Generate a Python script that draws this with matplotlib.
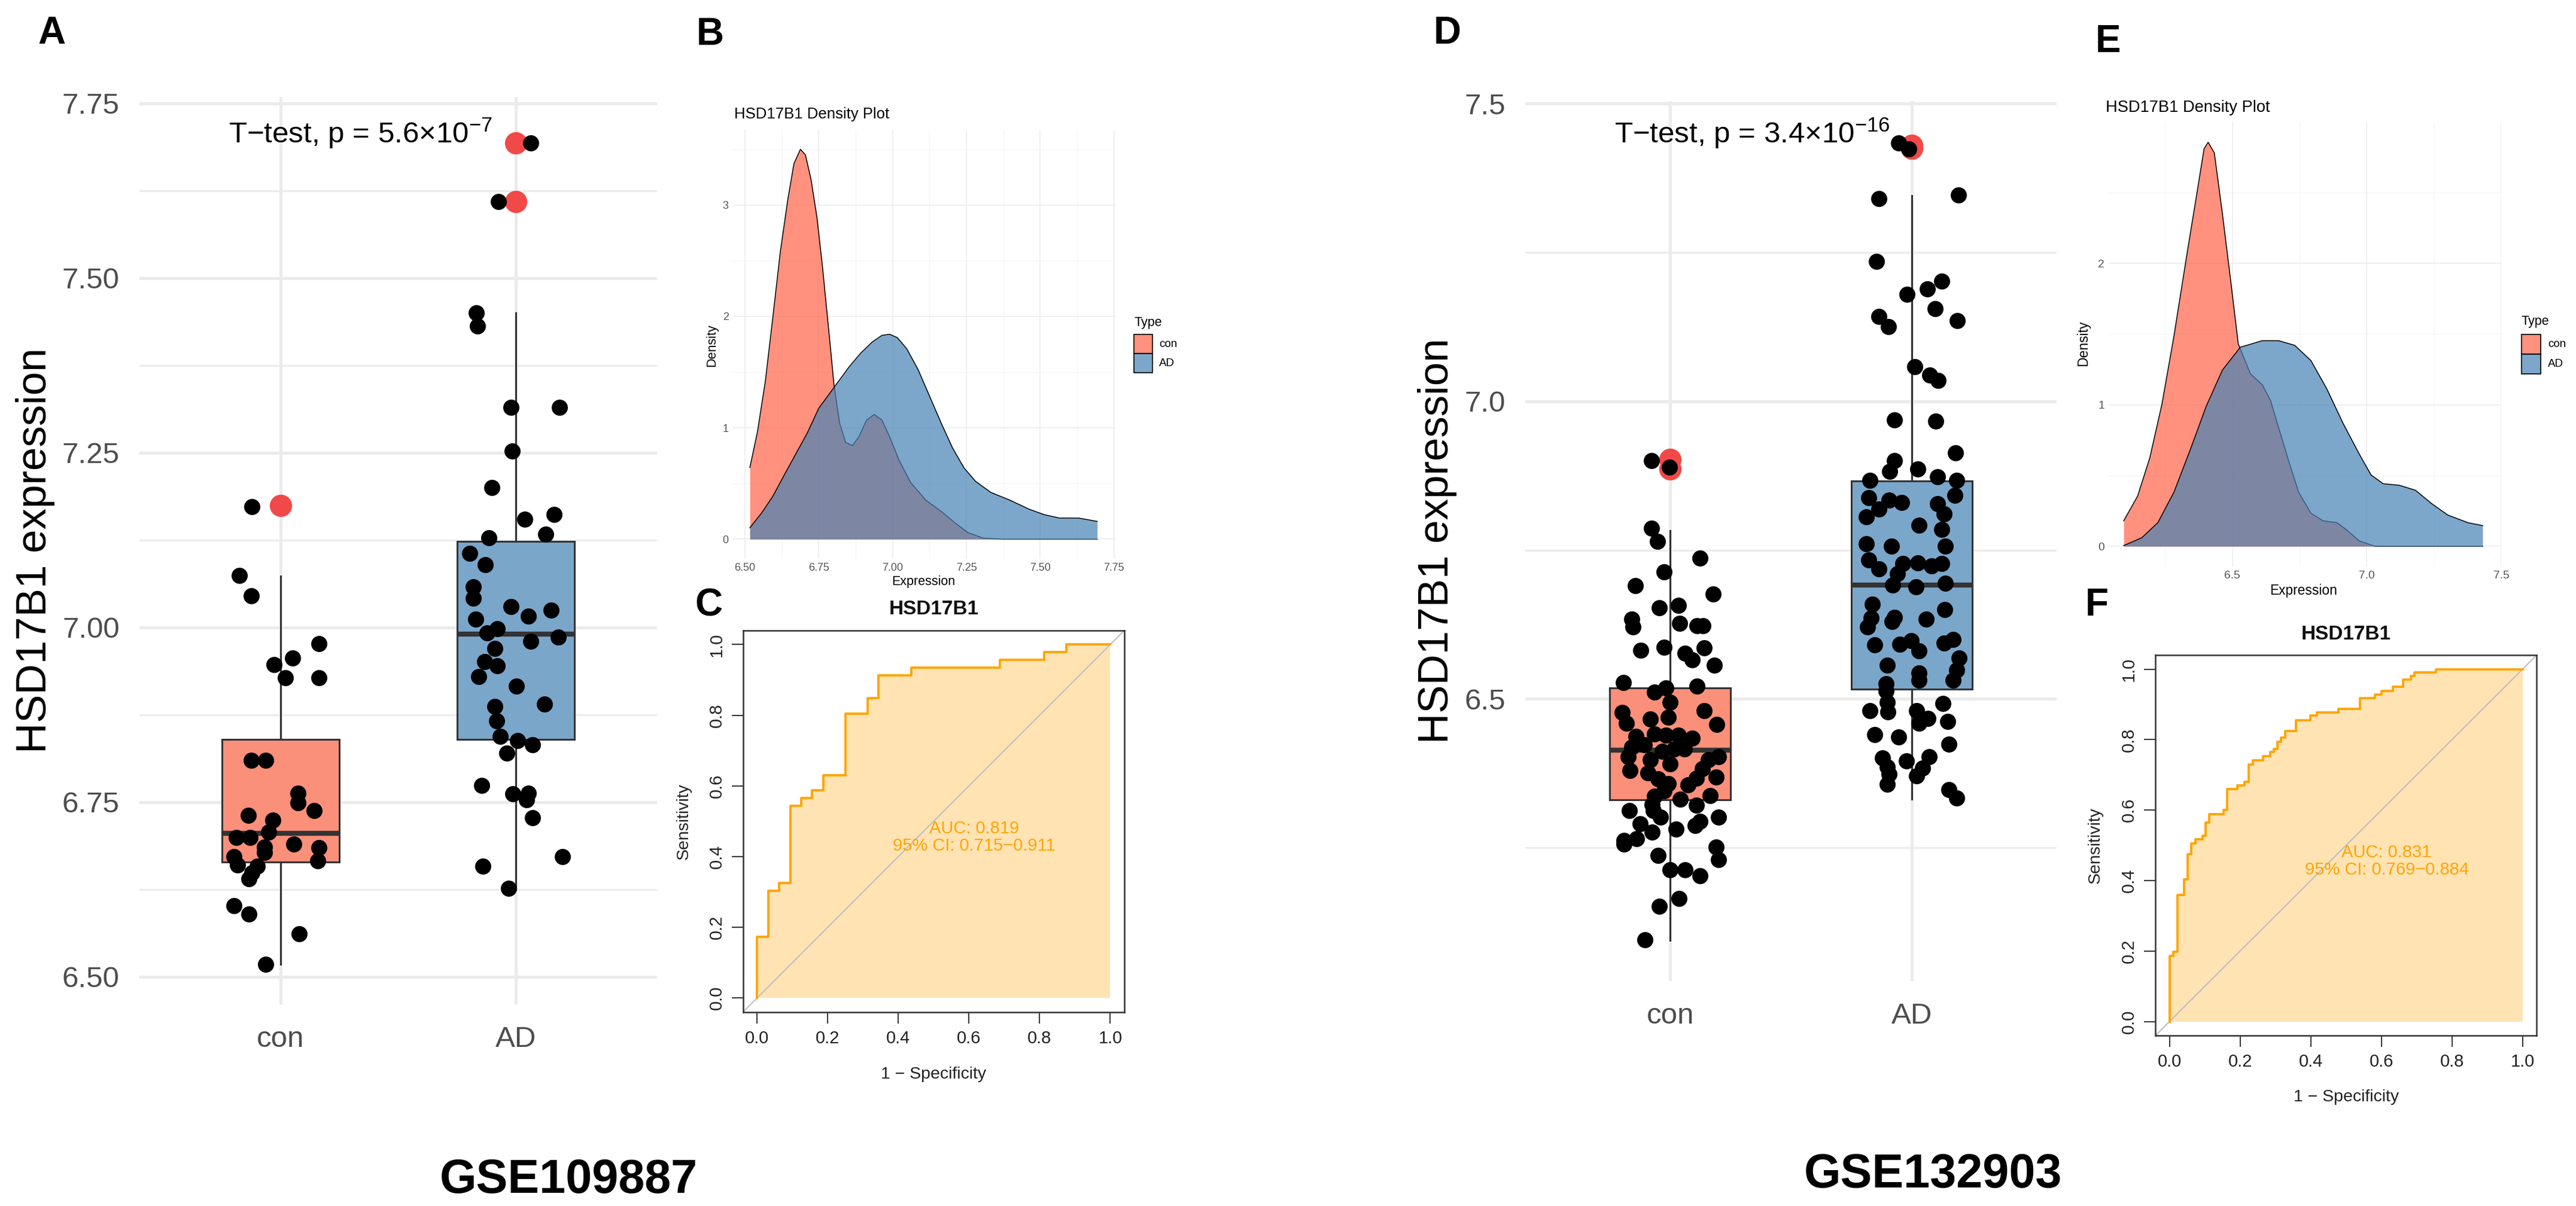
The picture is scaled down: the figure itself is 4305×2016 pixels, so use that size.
import numpy as np
import matplotlib
matplotlib.use("Agg")
import matplotlib.pyplot as plt
from matplotlib.patches import Rectangle
from matplotlib.colors import to_rgba

plt.rcParams["font.family"] = ["Liberation Sans", "DejaVu Sans"]
plt.rcParams["mathtext.fontset"] = "custom"
plt.rcParams["mathtext.rm"] = "Liberation Sans"
plt.rcParams["mathtext.it"] = "Liberation Sans:italic"
plt.rcParams["mathtext.bf"] = "Liberation Sans:bold"

W, H = 4305, 2016

GROUPS = ["con", "AD"]

# ---------------------------------------------------------------------------
# data
# ---------------------------------------------------------------------------
# panel A (GSE109887) boxplot stats, con / AD
A_whislo = [6.518, 6.625]
A_q1 = [6.664, 6.840]
A_med = [6.705, 6.990]
A_q3 = [6.840, 7.123]
A_whishi = [7.073, 7.450]
A_con_out = [7.174]
A_ad_out = [7.693, 7.609]

A_con_jit = [-0.121, -0.175, -0.125, 0.164, -0.027, 0.052, 0.021, 0.164, -0.125, -0.063,
             0.075, 0.075, 0.143, -0.136, -0.032, -0.050, -0.188, -0.130, -0.068, 0.057,
             0.164, -0.198, -0.068, 0.159, -0.182, -0.100, -0.121, -0.134, -0.198, -0.134,
             0.080, -0.063]
A_con_val = [7.173, 7.074, 7.045, 6.977, 6.947, 6.956, 6.928, 6.928, 6.810, 6.810,
             6.763, 6.749, 6.738, 6.731, 6.724, 6.707, 6.699, 6.699, 6.686, 6.690,
             6.685, 6.672, 6.678, 6.666, 6.660, 6.658, 6.649, 6.640, 6.602, 6.590,
             6.562, 6.518]

A_ad_jit = [0.064, -0.073, -0.168, -0.163, -0.021, 0.186, -0.016, -0.102, 0.038, 0.163,
            0.127, -0.114, -0.195, -0.129, -0.182, -0.182, -0.171, -0.021, 0.052, 0.150,
            -0.079, -0.123, 0.180, 0.064, -0.088, -0.132, -0.079, -0.159, 0.002, 0.123,
            -0.088, -0.082, -0.066, 0.007, 0.070, -0.038, -0.146, -0.013, 0.052, 0.046,
            0.070, -0.141, 0.198, -0.030]
A_ad_val = [7.693, 7.609, 7.450, 7.431, 7.315, 7.315, 7.252, 7.200, 7.155, 7.162,
            7.133, 7.128, 7.106, 7.090, 7.058, 7.042, 7.012, 7.030, 7.016, 7.025,
            6.998, 6.992, 6.986, 6.980, 6.970, 6.951, 6.945, 6.930, 6.916, 6.890,
            6.887, 6.866, 6.844, 6.838, 6.832, 6.820, 6.774, 6.762, 6.763, 6.753,
            6.728, 6.658, 6.672, 6.627]

# panel D (GSE132903)
D_whislo = [6.094, 6.332]
D_q1 = [6.331, 6.516]
D_med = [6.414, 6.691]
D_q3 = [6.518, 6.866]
D_whishi = [6.783, 7.346]
D_con_out = [6.902, 6.886]
D_ad_out = [7.430, 7.425]

D_con_jit = [-0.078, -0.003, -0.078, -0.053, 0.124, -0.025, -0.144, 0.179, -0.045, 0.033,
             -0.158, -0.154, 0.038, 0.111, 0.136, -0.121, -0.025, 0.141, 0.061, 0.091,
             0.182, -0.194, 0.111, -0.066, -0.017, 0.000, -0.199, -0.182, 0.141, 0.194,
             -0.083, -0.008, -0.066, -0.141, -0.017, 0.033, 0.091, -0.158, -0.108, 0.058,
             -0.033, 0.017, 0.199, -0.174, -0.083, 0.158, 0.000, 0.133, -0.166, -0.091,
             0.191, -0.050, 0.108, -0.008, 0.075, -0.025, -0.066, 0.041, 0.166, -0.075,
             0.108, -0.169, -0.070, -0.041, 0.199, 0.124, -0.124, 0.104, -0.075, 0.025,
             -0.191, -0.138, -0.191, 0.191, 0.199, -0.050, 0.000, 0.061, 0.124, 0.037,
             -0.045, -0.104]
D_con_val = [6.900, 6.889, 6.787, 6.765, 6.737, 6.713, 6.690, 6.676, 6.653, 6.657,
             6.634, 6.621, 6.627, 6.623, 6.623, 6.582, 6.587, 6.586, 6.577, 6.566,
             6.557, 6.528, 6.522, 6.511, 6.518, 6.494, 6.477, 6.459, 6.480, 6.457,
             6.466, 6.469, 6.441, 6.437, 6.439, 6.439, 6.434, 6.419, 6.423, 6.416,
             6.412, 6.416, 6.403, 6.403, 6.398, 6.398, 6.391, 6.383, 6.380, 6.376,
             6.369, 6.366, 6.367, 6.358, 6.356, 6.346, 6.337, 6.332, 6.338, 6.323,
             6.321, 6.312, 6.312, 6.301, 6.301, 6.294, 6.290, 6.287, 6.276, 6.281,
             6.262, 6.265, 6.256, 6.251, 6.230, 6.237, 6.213, 6.213, 6.203, 6.165,
             6.152, 6.095]

D_ad_jit = [-0.055, -0.012, -0.135, 0.193, -0.145, 0.125, 0.066, -0.019, 0.097, -0.137,
            -0.095, 0.189, 0.014, 0.076, 0.109, -0.071, 0.099, 0.182, -0.071, 0.024,
            -0.090, -0.173, 0.106, 0.187, -0.178, -0.093, -0.041, 0.178, 0.106, -0.137,
            0.134, -0.187, 0.030, 0.125, -0.187, -0.083, 0.139, -0.178, -0.135, -0.036,
            0.026, 0.082, 0.125, -0.060, -0.079, 0.019, 0.139, -0.164, 0.137, -0.071,
            0.059, -0.168, -0.182, -0.081, -0.154, -0.050, -0.003, 0.030, 0.134, 0.172,
            -0.102, 0.196, 0.030, 0.186, 0.030, 0.172, -0.107, -0.107, -0.102, -0.173,
            -0.098, 0.021, 0.130, 0.068, 0.030, 0.149, -0.154, -0.055, 0.153, -0.120,
            -0.022, 0.073, -0.102, 0.045, -0.093, 0.021, -0.102, 0.153, 0.186]
D_ad_val = [7.434, 7.424, 7.341, 7.347, 7.235, 7.202, 7.189, 7.180, 7.156, 7.143,
            7.126, 7.136, 7.058, 7.044, 7.035, 6.969, 6.967, 6.913, 6.900, 6.886,
            6.882, 6.867, 6.873, 6.867, 6.838, 6.834, 6.830, 6.842, 6.828, 6.819,
            6.811, 6.806, 6.792, 6.785, 6.761, 6.757, 6.757, 6.734, 6.719, 6.728,
            6.729, 6.724, 6.728, 6.710, 6.691, 6.688, 6.694, 6.659, 6.650, 6.637,
            6.634, 6.636, 6.621, 6.630, 6.591, 6.592, 6.598, 6.581, 6.594, 6.600,
            6.557, 6.569, 6.544, 6.549, 6.532, 6.532, 6.526, 6.513, 6.494, 6.480,
            6.478, 6.480, 6.492, 6.467, 6.459, 6.462, 6.440, 6.436, 6.424, 6.401,
            6.396, 6.403, 6.386, 6.384, 6.374, 6.371, 6.357, 6.348, 6.334]

# density curves (panels B and E)
B_con_x = [6.517, 6.543, 6.569, 6.595, 6.620, 6.646, 6.666, 6.688, 6.705, 6.724, 6.744,
           6.763, 6.782, 6.802, 6.821, 6.841, 6.864, 6.886, 6.912, 6.938, 6.964, 6.990,
           7.022, 7.061, 7.113, 7.165, 7.210, 7.255, 7.307, 7.372, 7.693]
B_con_y = [0.644, 0.97, 1.414, 2.0, 2.58, 3.06, 3.37, 3.50, 3.45, 3.23, 2.89,
           2.44, 1.93, 1.38, 1.04, 0.87, 0.84, 0.92, 1.07, 1.12, 1.07, 0.92,
           0.71, 0.51, 0.35, 0.25, 0.15, 0.06, 0.01, 0.0, 0.0]
B_ad_x = [6.517, 6.556, 6.595, 6.633, 6.672, 6.711, 6.750, 6.802, 6.854, 6.892, 6.931,
          6.964, 6.990, 7.016, 7.048, 7.087, 7.126, 7.165, 7.203, 7.242, 7.281, 7.333,
          7.398, 7.462, 7.514, 7.566, 7.631, 7.693]
B_ad_y = [0.103, 0.233, 0.387, 0.575, 0.764, 0.952, 1.175, 1.363, 1.551, 1.67, 1.77,
          1.83, 1.84, 1.81, 1.71, 1.52, 1.28, 1.04, 0.82, 0.64, 0.52, 0.42,
          0.35, 0.27, 0.22, 0.19, 0.19, 0.16]

E_con_x = [6.096, 6.148, 6.193, 6.238, 6.283, 6.328, 6.365, 6.395, 6.410, 6.433, 6.463,
           6.493, 6.522, 6.567, 6.612, 6.642, 6.672, 6.710, 6.747, 6.792, 6.837, 6.889,
           6.927, 6.972, 7.031, 7.431]
E_con_y = [0.18, 0.356, 0.625, 1.003, 1.488, 2.027, 2.458, 2.81, 2.855, 2.78, 2.35,
           1.89, 1.43, 1.22, 1.14, 1.03, 0.84, 0.60, 0.38, 0.235, 0.18, 0.167,
           0.113, 0.038, 0.0, 0.0]
E_ad_x = [6.096, 6.163, 6.223, 6.283, 6.343, 6.403, 6.463, 6.530, 6.612, 6.672, 6.732,
          6.792, 6.852, 6.912, 6.972, 7.016, 7.061, 7.121, 7.181, 7.241, 7.301, 7.376,
          7.431]
E_ad_y = [0.005, 0.06, 0.167, 0.383, 0.68, 0.99, 1.245, 1.407, 1.453, 1.453, 1.42,
          1.313, 1.11, 0.868, 0.652, 0.504, 0.442, 0.431, 0.396, 0.302, 0.221, 0.167,
          0.146]

# ROC step corners (1 - specificity, sensitivity)
C_fpr = [0, 0.03125, 0.0625, 0.09375, 0.125, 0.15625, 0.1875, 0.25, 0.3125, 0.34375,
         0.4375, 0.6875, 0.8125, 0.875, 1.0]
C_tpr = [0, 0.1739, 0.3043, 0.3261, 0.5435, 0.5652, 0.5870, 0.6304, 0.8043, 0.8478,
         0.9130, 0.9348, 0.9565, 0.9783, 1.0]
F_fpr = [0, 0.010, 0.022, 0.042, 0.051, 0.062, 0.073, 0.094, 0.103, 0.113, 0.153, 0.164,
         0.193, 0.213, 0.225, 0.236, 0.265, 0.285, 0.295, 0.306, 0.316, 0.327, 0.358,
         0.399, 0.418, 0.479, 0.540, 0.582, 0.601, 0.632, 0.661, 0.683, 0.694, 0.755, 1.0]
F_tpr = [0, 0.187, 0.198, 0.360, 0.404, 0.475, 0.506, 0.517, 0.528, 0.565, 0.589, 0.600,
         0.660, 0.670, 0.681, 0.730, 0.741, 0.754, 0.765, 0.774, 0.794, 0.805, 0.824,
         0.855, 0.868, 0.877, 0.887, 0.917, 0.928, 0.939, 0.950, 0.970, 0.981, 0.990, 1.0]

A_ptext = r"T−test, p = 5.6×$10^{-7}$"
D_ptext = r"T−test, p = 3.4×$10^{-16}$"
C_auc = "AUC: 0.819\n95% CI: 0.715−0.911"
F_auc = "AUC: 0.831\n95% CI: 0.769−0.884"

# ---------------------------------------------------------------------------
# styling
# ---------------------------------------------------------------------------
GRID = "#EBEBEB"
LINE = "#333333"
RED = "#F34848"
BOX_FILL = ["#FA8F7A", "#7AA6CA"]
DENS_FILL = ["tomato", "steelblue"]
ORANGE = "#FFA500"
TXT = "#4D4D4D"

fig = plt.figure(figsize=(W / 100, H / 100), dpi=100)


def px_axes(x0, y0, x1, y1):
    return fig.add_axes([x0 / W, 1 - y1 / H, (x1 - x0) / W, (y1 - y0) / H])


def box_panel(ax, whislo, q1, med, q3, whishi, jits, vals, outs, ylim, major, minor,
              ylabels, ptext, ylab_x):
    ax.set_xlim(-0.6, 1.6)
    ax.set_ylim(*ylim)
    for v in minor:
        ax.axhline(v, color=GRID, lw=2.2, zorder=0)
    for v in major:
        ax.axhline(v, color=GRID, lw=3.7, zorder=0)
    for x in (0, 1):
        ax.axvline(x, color=GRID, lw=3.7, zorder=0)
    stats = [dict(whislo=whislo[i], q1=q1[i], med=med[i], q3=q3[i], whishi=whishi[i])
             for i in range(2)]
    bp = ax.bxp(stats, positions=[0, 1], widths=0.5, patch_artist=True,
                showcaps=False, showfliers=False,
                boxprops=dict(edgecolor=LINE, linewidth=2.2),
                whiskerprops=dict(color=LINE, linewidth=2.2),
                medianprops=dict(color=LINE, linewidth=6, solid_capstyle="butt"),
                zorder=2)
    for patch, col in zip(bp["boxes"], BOX_FILL):
        patch.set_facecolor(col)
    for pos, (j, v, o) in enumerate(zip(jits, vals, outs)):
        ax.scatter(np.full(len(o), pos), o, s=720, color=RED, linewidths=0, zorder=3)
        ax.scatter(pos + np.array(j), v, s=377, color="black", linewidths=0, zorder=4)
    ax.set_xticks([0, 1])
    ax.set_xticklabels(GROUPS)
    ax.set_yticks(major)
    ax.set_yticklabels(ylabels)
    ax.tick_params(axis="both", length=0, labelsize=35.5, labelcolor=TXT)
    ax.tick_params(axis="y", pad=24)
    ax.tick_params(axis="x", pad=26)
    for s in ax.spines.values():
        s.set_visible(False)
    ax.text(ylab_x, 0.5, "HSD17B1 expression", transform=ax.transAxes, rotation=90,
            ha="center", va="center", fontsize=51, color="black")
    top = max(max(vals[1]), max(outs[1]))
    ax.text(0.34, top, ptext, ha="center", va="baseline", fontsize=35.5, color="black",
            zorder=5)


def density_panel(ax, xlim, ylim, xmajor, xminor, ymajor, yminor, xlabels, curves, k,
                  title_pos, ylab_pos, xlab_pos):
    ax.set_xlim(*xlim)
    ax.set_ylim(*ylim)
    for v in xminor:
        ax.axvline(v, color="#F4F4F4", lw=0.8, zorder=0)
    for v in yminor:
        ax.axhline(v, color="#F4F4F4", lw=0.8, zorder=0)
    for v in xmajor:
        ax.axvline(v, color=GRID, lw=1.1, zorder=0)
    for v in ymajor:
        ax.axhline(v, color=GRID, lw=1.1, zorder=0)
    for (x, y), col in zip(curves, DENS_FILL):
        ax.fill_between(x, y, 0, color=col, alpha=0.7, lw=0, zorder=1)
        ax.plot(x, y, color="black", lw=1.1, zorder=1)
    ax.set_xticks(xmajor)
    ax.set_xticklabels(xlabels)
    ax.set_yticks(ymajor)
    ax.set_yticklabels([str(v) for v in ymajor])
    ax.tick_params(axis="both", length=0, labelsize=13 * k, labelcolor="#555555", pad=5)
    for s in ax.spines.values():
        s.set_visible(False)
    ax.text(*title_pos, "HSD17B1 Density Plot", transform=ax.transAxes, ha="left",
            va="center", fontsize=18.5 * k)
    ax.text(*ylab_pos, "Density", transform=ax.transAxes, rotation=90, ha="center",
            va="center", fontsize=15.5 * k)
    ax.text(*xlab_pos, "Expression", transform=ax.transAxes, ha="center", va="center",
            fontsize=15.5 * k)


def roc_panel(ax, fpr, tpr, auc_text, xlab_y, ylab_x):
    ax.set_xlim(-0.04, 1.04)
    ax.set_ylim(-0.04, 1.04)
    ax.fill_between(fpr, tpr, 0, step="pre", color=ORANGE, alpha=0.3, lw=0, zorder=1)
    ax.plot([-0.04, 1.04], [-0.04, 1.04], color="#BEBEBE", lw=1.5, zorder=2)
    ax.step(fpr, tpr, where="pre", color=ORANGE, lw=2.8, zorder=3)
    ax.text(0.615, 0.455, auc_text, ha="center", va="center", color=ORANGE, fontsize=21,
            linespacing=1.05, zorder=4)
    ticks = [0, 0.2, 0.4, 0.6, 0.8, 1.0]
    labs = ["%.1f" % t for t in ticks]
    ax.set_xticks(ticks)
    ax.set_xticklabels(labs)
    ax.set_yticks(ticks)
    ax.set_yticklabels(labs, rotation=90, va="center")
    ax.tick_params(axis="both", direction="out", length=13.5, width=1.4, color=LINE,
                   labelsize=21, labelcolor="#222222", pad=8)
    for s in ax.spines.values():
        s.set_color(LINE)
        s.set_linewidth(1.8)
    ax.text(0.5, 1.055, "HSD17B1", transform=ax.transAxes, ha="center", va="center",
            fontsize=24, fontweight="bold", color="#111111")
    ax.text(0.5, xlab_y, "1 − Specificity", transform=ax.transAxes, ha="center",
            va="center", fontsize=20.5, color="#222222")
    ax.text(ylab_x, 0.5, "Sensitivity", transform=ax.transAxes, rotation=90, ha="center",
            va="center", fontsize=20.5, color="#222222")


# ---------------------------------------------------------------------------
# panel A / D: boxplots with jitter
# ---------------------------------------------------------------------------
axA = px_axes(233, 162, 1098, 1679)
box_panel(axA, A_whislo, A_q1, A_med, A_q3, A_whishi,
          [A_con_jit, A_ad_jit], [A_con_val, A_ad_val], [A_con_out, A_ad_out],
          (6.4606, 7.759), [6.50, 6.75, 7.00, 7.25, 7.50, 7.75],
          [6.625, 6.875, 7.125, 7.375, 7.625],
          ["6.50", "6.75", "7.00", "7.25", "7.50", "7.75"], A_ptext, -0.201)

axD = px_axes(2549, 168.5, 3437, 1640)
box_panel(axD, D_whislo, D_q1, D_med, D_q3, D_whishi,
          [D_con_jit, D_ad_jit], [D_con_val, D_ad_val], [D_con_out, D_ad_out],
          (6.026, 7.505), [6.5, 7.0, 7.5], [6.25, 6.75, 7.25],
          ["6.5", "7.0", "7.5"], D_ptext, -0.1655)

# ---------------------------------------------------------------------------
# panel B / E: density plots
# ---------------------------------------------------------------------------
axB = px_axes(1224.6, 217, 1862.8, 934)
density_panel(axB, (6.459, 7.752), (-0.175, 3.675),
              [6.50, 6.75, 7.00, 7.25, 7.50, 7.75], [6.625, 6.875, 7.125, 7.375, 7.625],
              [0, 1, 2, 3], [0.5, 1.5, 2.5, 3.5],
              ["6.50", "6.75", "7.00", "7.25", "7.50", "7.75"],
              [(B_con_x, B_con_y), (B_ad_x, B_ad_y)], 1.0,
              (0.003, 1.036), (-0.055, 0.498), (0.499, -0.054))

axE = px_axes(3524, 204, 4180, 947)
density_panel(axE, (6.04, 7.50), (-0.143, 2.998),
              [6.5, 7.0, 7.5], [6.25, 6.75, 7.25],
              [0, 1, 2], [0.5, 1.5, 2.5],
              ["6.5", "7.0", "7.5"],
              [(E_con_x, E_con_y), (E_ad_x, E_ad_y)], 1.06,
              (-0.008, 1.032), (-0.064, 0.502), (0.497, -0.054))

# ---------------------------------------------------------------------------
# panel C / F: ROC curves
# ---------------------------------------------------------------------------
axC = px_axes(1241.6, 1053.8, 1879, 1692)
roc_panel(axC, C_fpr, C_tpr, C_auc, -0.163, -0.155)

axF = px_axes(3602, 1095, 4239.3, 1731.3)
roc_panel(axF, F_fpr, F_tpr, F_auc, -0.161, -0.157)

# ---------------------------------------------------------------------------
# overlay: panel letters, dataset names, density legends
# ---------------------------------------------------------------------------
ov = fig.add_axes([0, 0, 1, 1])
ov.set_xlim(0, W)
ov.set_ylim(H, 0)
ov.axis("off")

for letter, x, y in [("A", 63, 73), ("B", 1164, 75), ("C", 1161, 1029),
                     ("D", 2396, 73), ("E", 3502, 87), ("F", 3485, 1029)]:
    ov.text(x, y, letter, fontsize=46, fontweight="bold", ha="left", va="baseline")

ov.text(950, 1994, "GSE109887", fontsize=57, fontweight="bold", ha="center", va="baseline")
ov.text(3230, 1985, "GSE132903", fontsize=57, fontweight="bold", ha="center", va="baseline")


def density_legend(x, y_title, key_top, key_w, key_h, lab_x, k):
    ov.text(x, y_title, "Type", fontsize=15.5 * k, ha="left", va="center")
    for i, (lab, col) in enumerate(zip(GROUPS, DENS_FILL)):
        y0 = key_top + i * key_h
        ov.add_patch(Rectangle((x, y0), key_w, key_h, facecolor=to_rgba(col, 0.7),
                               edgecolor="black", lw=1.2))
        ov.text(lab_x, y0 + key_h / 2, lab, fontsize=13.5 * k, ha="left", va="center")


density_legend(1895, 539, 559, 31, 32, 1937, 1.0)
density_legend(4214, 537, 559, 32, 33, 4258, 1.0)

fig.savefig("out.png", dpi=100)
